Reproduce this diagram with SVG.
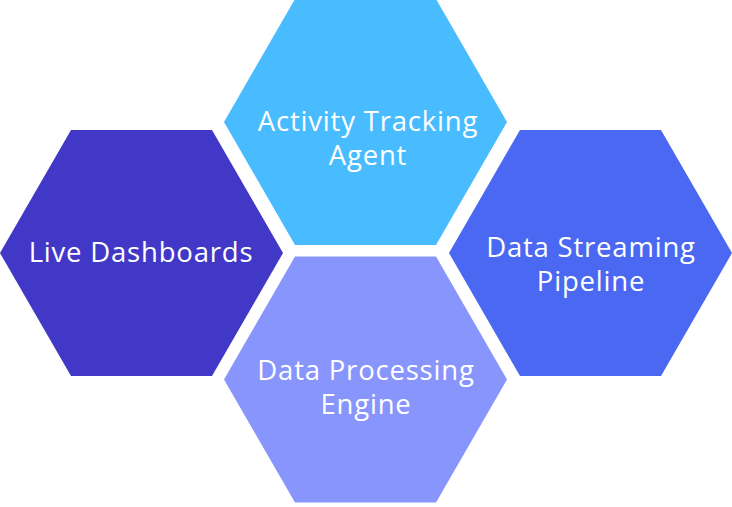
<svg xmlns="http://www.w3.org/2000/svg" width="732" height="507" viewBox="0 0 732 507">
<style>
text{font-family:"Open Sans","Noto Sans",sans-serif;font-size:27.5px;letter-spacing:0.8px;fill:#fff;text-anchor:middle}
</style>
<defs><polygon id="hx" points="-141.5,0 -70.5,-123 70.5,-123 141.5,0 70.5,123 -70.5,123"/></defs>
<g id="top"><use href="#hx" x="365.5" y="122" fill="#48bcff"/><text x="368" y="131">Activity Tracking</text><text x="368" y="165">Agent</text></g>
<g id="left"><use href="#hx" x="141.5" y="253" fill="#4238c8"/><text x="141" y="262">Live Dashboards</text></g>
<g id="right"><use href="#hx" x="590.5" y="253" fill="#4a68f2"/><text x="591" y="257">Data Streaming</text><text x="591" y="291">Pipeline</text></g>
<g id="bottom"><use href="#hx" x="365.5" y="379.5" fill="#8795fc"/><text x="366" y="380">Data Processing</text><text x="366" y="414">Engine</text></g>
<g id="connectors"/>
</svg>
